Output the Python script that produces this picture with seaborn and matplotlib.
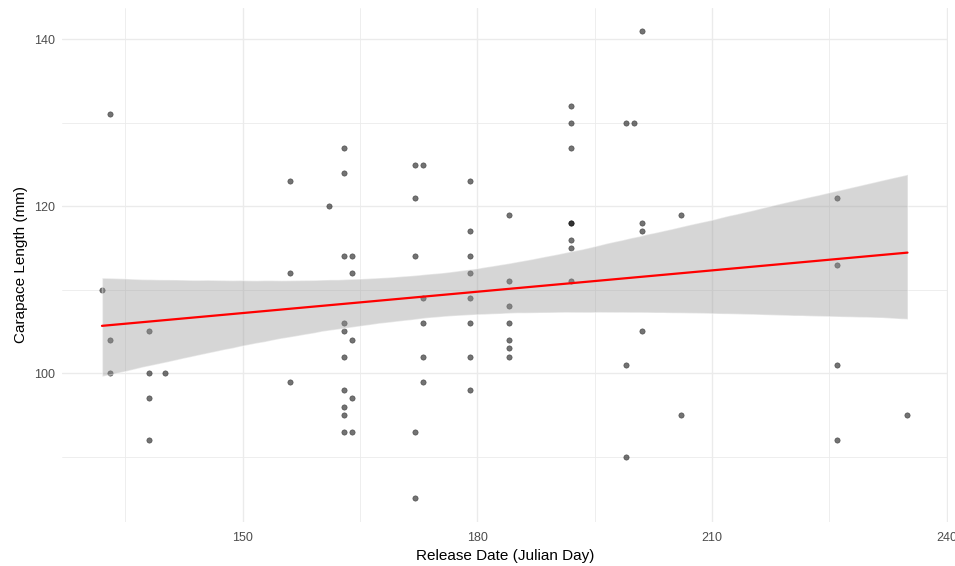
import pandas as pd
import matplotlib
matplotlib.use("Agg")
import matplotlib.pyplot as plt
import numpy as np
import seaborn as sns

# values
release_day = [132, 133, 133, 133, 138, 138, 140, 138, 138,
               156, 156, 156, 161,
               163, 163, 163, 164, 164, 163, 163, 164, 163, 163, 164, 163, 163, 163, 164,
               172, 173, 172, 172, 173, 173, 173, 173, 172, 172,
               179, 179, 179, 179, 179, 179, 179, 179,
               184, 184, 184, 184, 184, 184, 184,
               192, 192, 192, 192, 192, 192, 192, 192,
               199, 200, 201, 201, 201, 201, 199, 199,
               206, 206, 226, 226, 226, 226, 235]
carapace_length = [110, 131, 104, 100, 105, 100, 100, 97, 92,
                   123, 112, 99, 120,
                   127, 124, 114, 114, 112, 106, 105, 104, 102, 98, 97, 96, 95, 93, 93,
                   125, 125, 121, 114, 109, 106, 102, 99, 93, 85,
                   123, 117, 114, 112, 109, 106, 102, 98,
                   119, 111, 108, 106, 104, 103, 102,
                   132, 130, 127, 118, 118, 116, 115, 111,
                   130, 130, 141, 118, 117, 105, 101, 90,
                   119, 95, 121, 113, 101, 92, 95]

x_major = [150, 180, 210, 240]
x_minor = [135, 165, 195, 225]
y_major = [100, 120, 140]
y_minor = [90, 110, 130]

df = pd.DataFrame({"day": release_day, "length": carapace_length})

sns.set_theme(style="white")
plt.rcParams["font.family"] = ["Liberation Sans", "DejaVu Sans"]

fig = plt.figure(figsize=(9.55, 5.66), dpi=100)
ax = fig.add_axes([0.0646, 0.0781, 0.9278, 0.9085])

# points first, smoother band drawn on top (like ggplot)
sns.scatterplot(data=df, x="day", y="length", ax=ax, color="black", alpha=0.55,
                s=15, linewidth=0.4, edgecolor="black", zorder=2)
sns.regplot(data=df, x="day", y="length", ax=ax, scatter=False, ci=95,
            n_boot=6000, seed=3,
            line_kws={"color": "red", "linewidth": 1.6, "zorder": 4})
band = ax.collections[-1]
band.set_facecolor("#999999")
band.set_alpha(0.4)
band.set_zorder(3)

ax.set_xlim(126.85, 240.15)
ax.set_ylim(82.2, 143.8)
ax.set_xticks(x_major)
ax.set_xticks(x_minor, minor=True)
ax.set_yticks(y_major)
ax.set_yticks(y_minor, minor=True)

ax.grid(which="major", color="#EBEBEB", linewidth=1.0)
ax.grid(which="minor", color="#EBEBEB", linewidth=0.6)
ax.set_axisbelow(True)
for s in ax.spines.values():
    s.set_visible(False)

ax.tick_params(axis="both", which="both", length=0, labelsize=9, labelcolor="#4D4D4D")
ax.tick_params(axis="x", pad=7)
ax.tick_params(axis="y", pad=5)
ax.set_xlabel("Release Date (Julian Day)", fontsize=11, color="black", labelpad=4)
ax.set_ylabel("Carapace Length (mm)", fontsize=11, color="black", labelpad=4)

fig.savefig("out.png", dpi=100)
